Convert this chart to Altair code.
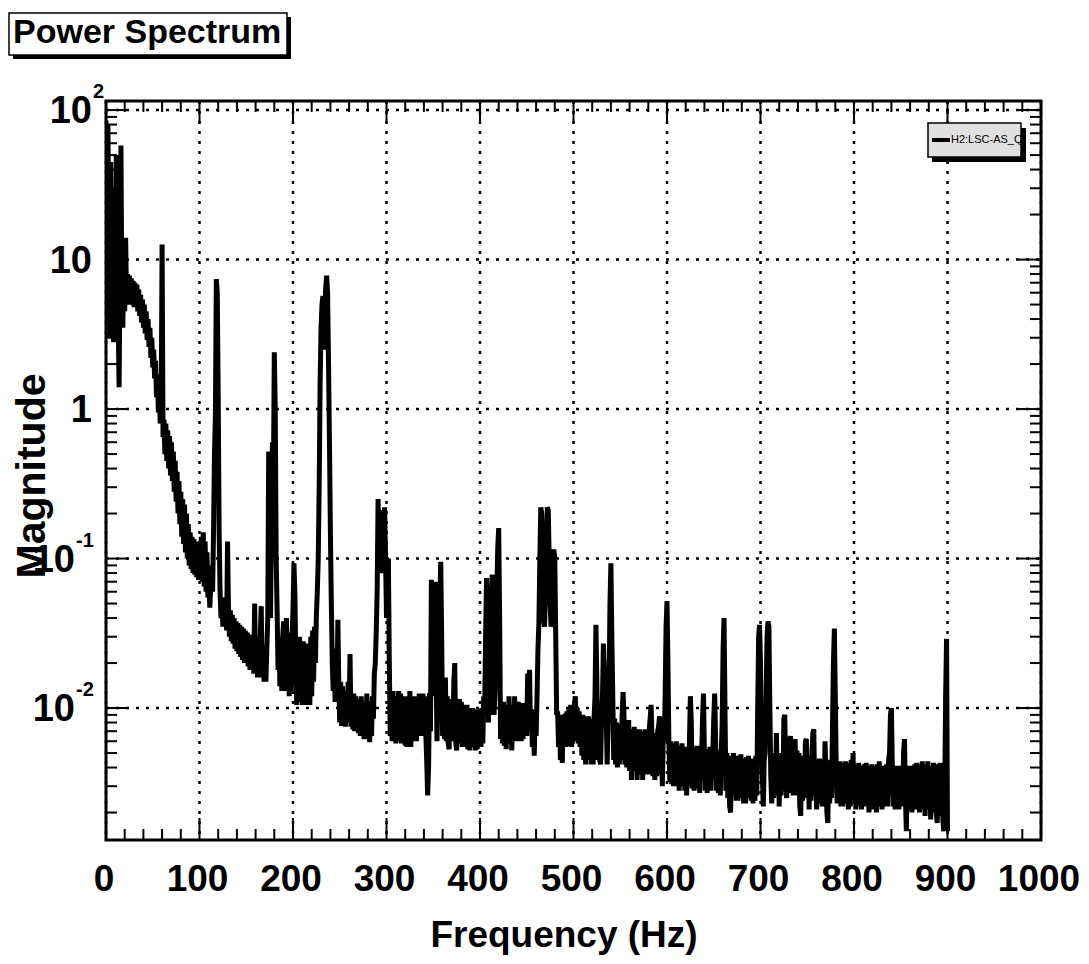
import altair as alt
import pandas as pd

# ---------------- data (magnitude per 1 Hz bin) -------------
mag_000_099 = [
    85, 8, 80, 20, 3.0, 45, 4.0, 30, 2.8, 25,
    6, 50, 10, 4, 1.4, 8, 58, 5, 3.5, 10,
    4.5, 14, 5, 8.0, 5.0, 7.8, 5.2, 7.5, 5.0, 7.2,
    4.8, 7.0, 4.8, 6.8, 4.5, 6.3, 4.2, 5.8, 3.8, 5.4,
    3.5, 5.0, 3.2, 4.5, 2.9, 4.0, 2.6, 3.5, 2.2, 3.0,
    1.9, 2.5, 1.6, 2.1, 1.2, 1.7, 0.95, 1.3, 0.8, 1.0,
    12.6, 0.65, 0.85, 0.5, 0.8, 0.45, 0.72, 0.4, 0.66, 0.36,
    0.6, 0.33, 0.52, 0.28, 0.45, 0.24, 0.38, 0.2, 0.33, 0.17,
    0.28, 0.14, 0.25, 0.125, 0.23, 0.11, 0.2, 0.1, 0.17, 0.09,
    0.15, 0.085, 0.14, 0.08, 0.135, 0.078, 0.13, 0.075, 0.13, 0.072,
]
mag_100_199 = [
    0.13, 0.075, 0.14, 0.07, 0.15, 0.065, 0.13, 0.06, 0.11, 0.055,
    0.08, 0.047, 0.065, 0.09, 0.06, 0.15, 0.5, 0.9, 7.4, 6.0,
    1.2, 0.15, 0.06, 0.04, 0.055, 0.035, 0.055, 0.035, 0.05, 0.033,
    0.13, 0.045, 0.03, 0.045, 0.028, 0.042, 0.027, 0.04, 0.025, 0.038,
    0.024, 0.037, 0.023, 0.036, 0.022, 0.035, 0.021, 0.034, 0.02, 0.033,
    0.02, 0.032, 0.019, 0.031, 0.018, 0.03, 0.018, 0.029, 0.017, 0.05,
    0.018, 0.028, 0.016, 0.028, 0.016, 0.03, 0.048, 0.016, 0.026, 0.015,
    0.026, 0.015, 0.025, 0.04, 0.52, 0.05, 0.04, 0.2, 0.6, 0.3,
    2.4, 1.0, 0.1, 0.045, 0.018, 0.03, 0.014, 0.03, 0.013, 0.03,
    0.038, 0.013, 0.03, 0.04, 0.013, 0.03, 0.012, 0.032, 0.013, 0.03,
]
mag_200_299 = [
    0.045, 0.093, 0.06, 0.02, 0.0105, 0.028, 0.011, 0.03, 0.011, 0.028,
    0.0105, 0.028, 0.011, 0.026, 0.0105, 0.027, 0.011, 0.024, 0.0105, 0.03,
    0.012, 0.033, 0.015, 0.035, 0.02, 0.042, 0.06, 0.1, 0.3, 1.5,
    3.5, 5.0, 5.7, 2.5, 4.5, 6.5, 7.8, 6.0, 2.0, 0.6,
    0.15, 0.05, 0.02, 0.013, 0.025, 0.011, 0.02, 0.012, 0.039, 0.014,
    0.008, 0.015, 0.0076, 0.014, 0.0078, 0.013, 0.0075, 0.012, 0.008, 0.015,
    0.009, 0.023, 0.0075, 0.012, 0.0072, 0.0125, 0.007, 0.012, 0.007, 0.0115,
    0.0068, 0.0115, 0.0065, 0.012, 0.0065, 0.011, 0.0062, 0.011, 0.0064, 0.0125,
    0.0062, 0.0105, 0.0059, 0.011, 0.0065, 0.012, 0.0085, 0.017, 0.02, 0.032,
    0.06, 0.25, 0.12, 0.2, 0.21, 0.08, 0.1, 0.15, 0.22, 0.1,
]
mag_300_399 = [
    0.04, 0.06, 0.1, 0.02, 0.0065, 0.012, 0.006, 0.013, 0.0062, 0.012,
    0.0058, 0.0115, 0.0062, 0.013, 0.006, 0.0125, 0.0058, 0.011, 0.0062, 0.012,
    0.0056, 0.0115, 0.0055, 0.012, 0.006, 0.013, 0.0055, 0.0115, 0.006, 0.012,
    0.0062, 0.0115, 0.006, 0.012, 0.0065, 0.0125, 0.0065, 0.012, 0.0068, 0.0125,
    0.0065, 0.012, 0.0068, 0.0045, 0.0026, 0.004, 0.0126, 0.007, 0.072, 0.03,
    0.012, 0.04, 0.07, 0.02, 0.006, 0.012, 0.02, 0.05, 0.095, 0.03,
    0.0065, 0.012, 0.0062, 0.016, 0.006, 0.012, 0.0058, 0.0053, 0.011, 0.006,
    0.0115, 0.006, 0.015, 0.02, 0.006, 0.0052, 0.011, 0.0058, 0.0115, 0.0058,
    0.011, 0.0055, 0.0105, 0.0056, 0.0105, 0.0055, 0.0105, 0.0053, 0.01, 0.0052,
    0.0098, 0.0055, 0.01, 0.0055, 0.0098, 0.0052, 0.0095, 0.0053, 0.0098, 0.0055,
]
mag_400_499 = [
    0.0098, 0.0055, 0.01, 0.0058, 0.012, 0.01, 0.03, 0.074, 0.03, 0.008,
    0.02, 0.009, 0.05, 0.078, 0.03, 0.009, 0.0125, 0.02, 0.06, 0.12,
    0.16, 0.04, 0.0062, 0.0105, 0.0058, 0.011, 0.0056, 0.0105, 0.0053, 0.0105,
    0.0058, 0.012, 0.006, 0.0105, 0.0052, 0.0105, 0.006, 0.012, 0.0062, 0.0105,
    0.006, 0.011, 0.0062, 0.0108, 0.006, 0.0105, 0.0062, 0.0108, 0.0065, 0.0105,
    0.0065, 0.017, 0.0075, 0.018, 0.007, 0.0098, 0.0055, 0.009, 0.0048, 0.0095,
    0.0065, 0.012, 0.025, 0.037, 0.1, 0.22, 0.2, 0.08, 0.04, 0.035,
    0.06, 0.13, 0.22, 0.21, 0.1, 0.05, 0.035, 0.04, 0.08, 0.115,
    0.1, 0.03, 0.009, 0.0095, 0.0055, 0.009, 0.0045, 0.0085, 0.0043, 0.009,
    0.0055, 0.0092, 0.0055, 0.0095, 0.0056, 0.0098, 0.0058, 0.0105, 0.0055, 0.0098,
]
mag_500_599 = [
    0.006, 0.0105, 0.012, 0.006, 0.01, 0.0058, 0.0095, 0.0055, 0.009, 0.0048,
    0.009, 0.0045, 0.0088, 0.0042, 0.0085, 0.0045, 0.0088, 0.0045, 0.0085, 0.0042,
    0.0082, 0.0042, 0.0085, 0.012, 0.036, 0.015, 0.0045, 0.0085, 0.0045, 0.0042,
    0.0085, 0.012, 0.027, 0.018, 0.012, 0.0088, 0.0042, 0.008, 0.012, 0.05,
    0.093, 0.03, 0.012, 0.0045, 0.0085, 0.0042, 0.008, 0.004, 0.0078, 0.0042,
    0.0078, 0.0045, 0.009, 0.0128, 0.009, 0.0042, 0.0078, 0.004, 0.0075, 0.0083,
    0.0038, 0.0072, 0.0033, 0.0072, 0.0038, 0.0075, 0.0038, 0.0072, 0.0033, 0.007,
    0.0038, 0.0072, 0.0036, 0.0068, 0.0033, 0.007, 0.0036, 0.0072, 0.0038, 0.007,
    0.0036, 0.0072, 0.0085, 0.0105, 0.006, 0.0035, 0.0068, 0.0033, 0.0068, 0.0035,
    0.007, 0.0075, 0.0088, 0.0036, 0.0066, 0.003, 0.0065, 0.006, 0.012, 0.035,
]
mag_600_699 = [
    0.052, 0.02, 0.006, 0.0032, 0.006, 0.0031, 0.0058, 0.003, 0.0058, 0.0032,
    0.006, 0.003, 0.0055, 0.0028, 0.0056, 0.003, 0.0058, 0.0031, 0.0055, 0.0028,
    0.0054, 0.0026, 0.0055, 0.003, 0.006, 0.012, 0.008, 0.0029, 0.0055, 0.0028,
    0.0054, 0.003, 0.0056, 0.0029, 0.0054, 0.0027, 0.0055, 0.0045, 0.0085, 0.0125,
    0.005, 0.0028, 0.0053, 0.0027, 0.0052, 0.0029, 0.0055, 0.0028, 0.0052, 0.005,
    0.0085, 0.0125, 0.006, 0.0028, 0.0052, 0.0027, 0.005, 0.0026, 0.005, 0.008,
    0.025, 0.04, 0.01, 0.0028, 0.005, 0.0025, 0.0048, 0.0022, 0.002, 0.0048,
    0.0026, 0.005, 0.0026, 0.0048, 0.0024, 0.0046, 0.0024, 0.0048, 0.0025, 0.0049,
    0.0025, 0.0046, 0.0023, 0.0045, 0.0023, 0.0047, 0.0025, 0.0048, 0.0025, 0.0046,
    0.0024, 0.0045, 0.0023, 0.0046, 0.0024, 0.0048, 0.0026, 0.01, 0.03, 0.036,
]
mag_700_799 = [
    0.02, 0.006, 0.0035, 0.0022, 0.0045, 0.005, 0.012, 0.03, 0.038, 0.035,
    0.01, 0.0035, 0.0023, 0.0045, 0.0025, 0.005, 0.0026, 0.0068, 0.0028, 0.0048,
    0.0022, 0.0048, 0.0026, 0.005, 0.0028, 0.0085, 0.009, 0.0032, 0.0025, 0.0052,
    0.0027, 0.0058, 0.0065, 0.0028, 0.0052, 0.0026, 0.0055, 0.0062, 0.0027, 0.0052,
    0.0026, 0.005, 0.0022, 0.0019, 0.0045, 0.0024, 0.0048, 0.0025, 0.006, 0.0062,
    0.0028, 0.0048, 0.0021, 0.0046, 0.0024, 0.005, 0.0068, 0.0072, 0.0026, 0.0045,
    0.0021, 0.0045, 0.0023, 0.0046, 0.0024, 0.0044, 0.0022, 0.0045, 0.0023, 0.006,
    0.0035, 0.002, 0.0017, 0.0043, 0.0023, 0.0045, 0.0025, 0.0075, 0.02, 0.034,
    0.012, 0.004, 0.0023, 0.0043, 0.0023, 0.0044, 0.0022, 0.0043, 0.0022, 0.0042,
    0.0023, 0.0044, 0.0023, 0.0042, 0.0021, 0.0043, 0.0022, 0.0045, 0.0024, 0.005,
]
mag_800_900 = [
    0.0024, 0.0042, 0.0021, 0.0041, 0.0022, 0.0043, 0.0022, 0.0041, 0.0021, 0.004,
    0.0022, 0.0042, 0.0023, 0.0043, 0.0022, 0.004, 0.002, 0.0041, 0.0021, 0.0042,
    0.0022, 0.0041, 0.0021, 0.004, 0.002, 0.0042, 0.0022, 0.0044, 0.0023, 0.0041,
    0.0021, 0.004, 0.0022, 0.0041, 0.0022, 0.0042, 0.0022, 0.0045, 0.005, 0.009,
    0.01, 0.004, 0.0022, 0.0041, 0.0021, 0.004, 0.0022, 0.0041, 0.0021, 0.004,
    0.0022, 0.0041, 0.0022, 0.005, 0.0062, 0.0025, 0.0015, 0.004, 0.0021, 0.0041,
    0.0021, 0.004, 0.002, 0.0041, 0.0021, 0.0042, 0.0022, 0.0043, 0.0021, 0.004,
    0.002, 0.0042, 0.0022, 0.0044, 0.0021, 0.004, 0.0019, 0.0042, 0.0021, 0.0044,
    0.0021, 0.0041, 0.0018, 0.004, 0.002, 0.0043, 0.0021, 0.0042, 0.002, 0.0017,
    0.0042, 0.002, 0.0043, 0.0019, 0.0041, 0.0018, 0.0015, 0.0025, 0.012, 0.029,
    0.0015,
]

magnitude = (mag_000_099 + mag_100_199 + mag_200_299 + mag_300_399 + mag_400_499
             + mag_500_599 + mag_600_699 + mag_700_799 + mag_800_900)
freq_hz = list(range(len(magnitude)))          # 1 Hz bins, 0 .. 900 Hz

x_major = [0, 100, 200, 300, 400, 500, 600, 700, 800, 900, 1000]
x_labels = ["0", "100", "200", "300", "400", "500", "600", "700", "800", "900", "1000"]
x_minor = [f for f in range(0, 1001, 20) if f % 100 != 0]
y_major = [100, 10, 1, 0.1, 0.01]
y_label_base = ["10", "10", "1", "10", "10"]
y_label_exp = ["2", "", "", "-1", "-2"]
y_minor = [m * 10.0 ** k for k in range(-3, 2) for m in range(2, 10)
           if 0.00131 < m * 10.0 ** k < 115]

series_name = "H2:LSC-AS_Q"
chart_title = "Power Spectrum"
x_title = "Frequency (Hz)"
y_title = "Magnitude"

# ---------------- chart -------------
W, H = 935, 739
FONT = "Liberation Sans"
YLABEL_SIZE = 38
XLABEL_SIZE = 37
xscale = alt.Scale(domain=[0, 1000], nice=False, zero=False)
yscale = alt.Scale(type="log", domain=[0.00131, 115], nice=False)


def X(field):
    return alt.X(field, scale=xscale, axis=None)


def Y(field):
    return alt.Y(field, scale=yscale, axis=None)


one = pd.DataFrame({"k": [0]})
layers = []

# dotted grid
gx = pd.DataFrame({"f": x_major})
gy = pd.DataFrame({"m": y_major})
layers.append(alt.Chart(gx).mark_rule(color="black", strokeWidth=2.5, strokeDash=[3, 7]).encode(
    x=X("f:Q"), y=alt.value(0), y2=alt.value(H)))
layers.append(alt.Chart(gy).mark_rule(color="black", strokeWidth=2.5, strokeDash=[3, 7]).encode(
    y=Y("m:Q"), x=alt.value(0), x2=alt.value(W)))

# spectrum
df = pd.DataFrame({"f": freq_hz, "m": magnitude})
layers.append(alt.Chart(df).mark_line(
    color="black", strokeWidth=5, strokeJoin="bevel", clip=True
).encode(x=X("f:Q"), y=Y("m:Q")))


# inward tick marks on all four sides
def xticks(values, length):
    d = pd.DataFrame({"f": values})
    b = alt.Chart(d).mark_rule(color="black", strokeWidth=2).encode(
        x=X("f:Q"), y=alt.value(H), y2=alt.value(H - length))
    t = alt.Chart(d).mark_rule(color="black", strokeWidth=2).encode(
        x=X("f:Q"), y=alt.value(0), y2=alt.value(length))
    return [b, t]


def yticks(values, length):
    d = pd.DataFrame({"m": values})
    l = alt.Chart(d).mark_rule(color="black", strokeWidth=2).encode(
        y=Y("m:Q"), x=alt.value(0), x2=alt.value(length))
    r = alt.Chart(d).mark_rule(color="black", strokeWidth=2).encode(
        y=Y("m:Q"), x=alt.value(W), x2=alt.value(W - length))
    return [l, r]


layers += xticks(x_major, 22) + xticks(x_minor, 11)
layers += yticks(y_major, 22) + yticks(y_minor, 11)

# x tick labels
lx = pd.DataFrame({"f": x_major, "t": x_labels})
layers.append(alt.Chart(lx).mark_text(
    align="center", baseline="top", font=FONT, fontSize=XLABEL_SIZE, fontWeight="bold",
    color="black", dx=-2).encode(x=X("f:Q"), y=alt.value(H + 22), text="t:N"))

# y tick labels with superscript exponents
for v, base, exp in zip(y_major, y_label_base, y_label_exp):
    if exp.startswith("-"):
        bx, ex = -31, -30
    else:
        bx, ex = -14, -13
    d = pd.DataFrame({"m": [v], "t": [base], "e": [exp]})
    layers.append(alt.Chart(d).mark_text(
        align="right", baseline="middle", font=FONT, fontSize=YLABEL_SIZE, fontWeight="bold",
        color="black", dy=2).encode(x=alt.value(bx), y=Y("m:Q"), text="t:N"))
    if exp:
        layers.append(alt.Chart(d).mark_text(
            align="left", baseline="middle", font=FONT, fontSize=20, fontWeight="bold",
            color="black", dy=-18).encode(x=alt.value(ex), y=Y("m:Q"), text="e:N"))

# axis titles
layers.append(alt.Chart(one).mark_text(
    text=x_title, align="center", baseline="alphabetic", font=FONT, fontSize=37,
    fontWeight="bold", color="black").encode(x=alt.value(458), y=alt.value(H + 107)))
layers.append(alt.Chart(one).mark_text(
    text=y_title, align="center", baseline="alphabetic", angle=270, font=FONT, fontSize=41,
    fontWeight="bold", color="black").encode(x=alt.value(-61), y=alt.value(375)))

# title box with shadow
layers.append(alt.Chart(one).mark_rect(color="black").encode(
    x=alt.value(-93), x2=alt.value(185), y=alt.value(-84), y2=alt.value(-42)))
layers.append(alt.Chart(one).mark_rect(fill="white", stroke="black", strokeWidth=1.5).encode(
    x=alt.value(-97), x2=alt.value(181), y=alt.value(-88), y2=alt.value(-46)))
layers.append(alt.Chart(one).mark_text(
    text=chart_title, align="left", baseline="alphabetic", font=FONT, fontSize=34,
    fontWeight="bold", color="black").encode(x=alt.value(-93), y=alt.value(-58)))

# legend box with shadow
layers.append(alt.Chart(one).mark_rect(color="black").encode(
    x=alt.value(826), x2=alt.value(920), y=alt.value(27), y2=alt.value(61)))
layers.append(alt.Chart(one).mark_rect(fill="#e0e0e0", stroke="black", strokeWidth=1.5).encode(
    x=alt.value(822), x2=alt.value(915), y=alt.value(22), y2=alt.value(56)))
layers.append(alt.Chart(one).mark_rule(color="black", strokeWidth=4).encode(
    x=alt.value(826), x2=alt.value(844), y=alt.value(39)))
layers.append(alt.Chart(one).mark_text(
    text=series_name, align="left", baseline="middle", font=FONT, fontSize=11,
    color="black").encode(x=alt.value(845), y=alt.value(39)))

chart = alt.layer(*layers).properties(
    width=W, height=H,
    autosize=alt.AutoSizeParams(type="none"),
    padding={"left": 98, "top": 93, "right": 40, "bottom": 116},
).configure_view(stroke="black", strokeWidth=3)

chart.save("out.html", embed_options={"renderer": "svg", "actions": False})
